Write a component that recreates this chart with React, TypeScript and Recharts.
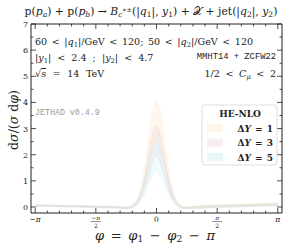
import React from "react";
import { ComposedChart, Area, XAxis, YAxis } from "recharts";

// azimuthal distance phi = phi1 - phi2 - pi (rad)
const phi = [-3.14, -2.6, -2.0, -1.5, -1.0, -0.75, -0.6, -0.5, -0.4, -0.3, -0.2, -0.1, -0.05, 0, 0.05, 0.1, 0.2, 0.3, 0.4, 0.5, 0.6, 0.75, 1.0, 1.5, 2.0, 2.6, 3.14];

// HE-NLO uncertainty bands (1/2 < C_mu < 2)
const hiDY1 = [0.10, 0.08, 0.06, 0.04, 0.02, 0.00, 0.10, 0.30, 0.77, 1.58, 2.66, 3.62, 3.92, 4.02, 3.92, 3.62, 2.66, 1.58, 0.77, 0.30, 0.10, 0.01, 0.05, 0.08, 0.10, 0.13, 0.17];
const loDY1 = [0.04, 0.02, 0.00, -0.02, -0.03, -0.05, 0.02, 0.14, 0.42, 0.95, 1.65, 2.30, 2.52, 2.60, 2.52, 2.30, 1.65, 0.95, 0.42, 0.14, 0.02, -0.04, -0.04, -0.01, 0.02, 0.05, 0.08];
const hiDY3 = [0.08, 0.06, 0.05, 0.03, 0.01, -0.02, 0.08, 0.25, 0.60, 1.20, 2.00, 2.75, 3.00, 3.10, 3.00, 2.75, 2.00, 1.20, 0.60, 0.25, 0.08, -0.02, 0.02, 0.06, 0.08, 0.10, 0.13];
const loDY3 = [0.03, 0.02, 0.00, -0.02, -0.04, -0.06, 0.00, 0.10, 0.32, 0.70, 1.20, 1.70, 1.88, 1.95, 1.88, 1.70, 1.20, 0.70, 0.32, 0.10, 0.00, -0.06, -0.05, -0.02, 0.01, 0.03, 0.06];
const hiDY5 = [0.07, 0.05, 0.04, 0.02, 0.00, -0.03, 0.07, 0.22, 0.52, 1.00, 1.65, 2.22, 2.42, 2.50, 2.42, 2.22, 1.65, 1.00, 0.52, 0.22, 0.07, -0.03, 0.01, 0.05, 0.07, 0.09, 0.12];
const loDY5 = [0.02, 0.01, -0.01, -0.03, -0.05, -0.07, -0.01, 0.08, 0.25, 0.52, 0.88, 1.22, 1.35, 1.40, 1.35, 1.22, 0.88, 0.52, 0.25, 0.08, -0.01, -0.07, -0.06, -0.03, 0.00, 0.02, 0.05];

// tick positions: minor every pi/10, labels on multiples of pi/2
const xTicks = Array.from({ length: 21 }, (_, i) => ((i - 10) * Math.PI) / 10);
const xLabels = [
  { num: "−π", den: "" },
  { num: "−π", den: "2" },
  { num: "0", den: "" },
  { num: "π", den: "2" },
  { num: "π", den: "" },
];
const yTicks = Array.from({ length: 15 }, (_, i) => i * 0.5);
const yLabels = ["0", "1", "2", "3", "4", "5", "6", "7"];

const bands = [
  { key: "b1", name: "1", fill: "#ffcc90", op: 0.16, swatch: "#fef4e8" },
  { key: "b3", name: "3", fill: "#c9a0b8", op: 0.13, swatch: "#f5edf2" },
  { key: "b5", name: "5", fill: "#9ee6e2", op: 0.15, swatch: "#e9f8f7" },
];

const data = phi.map((p, i) => ({
  phi: p,
  b1: [loDY1[i], hiDY1[i]],
  b3: [loDY3[i], hiDY3[i]],
  b5: [loDY5[i], hiDY5[i]],
}));

const serif = "'DejaVu Serif', 'Liberation Serif', serif";
const mono = "'Liberation Mono', 'DejaVu Sans Mono', monospace";
const ink = "#222";

function BottomTick(props: any) {
  const { x, y, payload } = props;
  const k = Math.round(payload.value / (Math.PI / 10));
  const major = k % 5 === 0;
  const lab = major ? xLabels[k / 5 + 2] : null;
  return (
    <g>
      <line x1={x} x2={x} y1={y} y2={y - (major ? 5 : 2.5)} stroke={ink} strokeWidth={0.8} />
      {lab && !lab.den && (
        <text x={x} y={y + 9} textAnchor="middle" fontSize={7.5} fontFamily={serif} fontStyle={lab.num === "0" ? "normal" : "italic"} fill={ink}>
          {lab.num}
        </text>
      )}
      {lab && lab.den && (
        <g fontFamily={serif} fill={ink} textAnchor="middle">
          <text x={x} y={y + 7} fontSize={6} fontStyle="italic">{lab.num}</text>
          <line x1={x - 5} x2={x + 5} y1={y + 8.5} y2={y + 8.5} stroke={ink} strokeWidth={0.5} />
          <text x={x} y={y + 14.5} fontSize={6}>{lab.den}</text>
        </g>
      )}
    </g>
  );
}

function TopTick(props: any) {
  const { x, y, payload } = props;
  const k = Math.round(payload.value / (Math.PI / 10));
  const major = k % 5 === 0;
  return <line x1={x} x2={x} y1={y} y2={y + (major ? 5 : 2.5)} stroke={ink} strokeWidth={0.8} />;
}

function LeftTick(props: any) {
  const { x, y, payload } = props;
  const major = Number.isInteger(payload.value);
  return (
    <g>
      <line x1={x} x2={x + (major ? 5 : 2.5)} y1={y} y2={y} stroke={ink} strokeWidth={0.8} />
      {major && (
        <text x={x - 3} y={y + 3} textAnchor="end" fontSize={8} fontFamily={serif} fill={ink}>
          {yLabels[payload.value]}
        </text>
      )}
    </g>
  );
}

function RightTick(props: any) {
  const { x, y, payload } = props;
  const major = Number.isInteger(payload.value);
  return <line x1={x} x2={x - (major ? 5 : 2.5)} y1={y} y2={y} stroke={ink} strokeWidth={0.8} />;
}

const Sub = ({ children }: { children: React.ReactNode }) => (
  <tspan baselineShift="-25%" fontSize="70%">{children}</tspan>
);
const I = ({ children }: { children: React.ReactNode }) => <tspan fontStyle="italic">{children}</tspan>;

function Overlay() {
  return (
    <svg width={295} height={248} style={{ position: "absolute", left: 0, top: 0, pointerEvents: "none" }}>
      <text x={151} y={15} textAnchor="middle" fontSize={10.8} fontFamily={serif} fill={ink}>
        p(<I>p</I><Sub><I>a</I></Sub>) + p(<I>p</I><Sub><I>b</I></Sub>) → <I>B</I>
        <tspan baselineShift="-25%" fontSize="65%"><I>c</I></tspan>
        <tspan baselineShift="45%" fontSize="60%">∗±</tspan>
        (|<I>q</I><Sub>1</Sub>|, <I>y</I><Sub>1</Sub>) + 𝒳 + jet(|<I>q</I><Sub>2</Sub>|, <I>y</I><Sub>2</Sub>)
      </text>

      <g fontFamily={serif} fontSize={9.6} fill={ink}>
        <text x={35} y={45} wordSpacing={1.5}>
          60 &lt; |<I>q</I><Sub>1</Sub>|/GeV &lt; 120;  50 &lt; |<I>q</I><Sub>2</Sub>|/GeV &lt; 120
        </text>
        <text x={35} y={61} wordSpacing={3}>
          |<I>y</I><Sub>1</Sub>| &lt; 2.4 ;  |<I>y</I><Sub>2</Sub>| &lt; 4.7
        </text>
        <text x={35} y={77} wordSpacing={3.5}>
          √<tspan textDecoration="overline" fontStyle="italic">s</tspan> = 14 TeV
        </text>
        <text x={276} y={77} textAnchor="end" wordSpacing={2.5}>
          1/2 &lt; <I>C</I><Sub><I>μ</I></Sub> &lt; 2
        </text>
      </g>
      <text x={276} y={59} textAnchor="end" fontFamily={mono} fontSize={8.8} fill={ink}>
        MMHT14 + ZCFW22
      </text>
      <text x={35} y={115} fontFamily={mono} fontSize={8.3} fill="#999">
        JETHAD v0.4.9
      </text>

      <rect x={202} y={105} width={75} height={60} rx={3} fill="#fff" stroke="#d4d4d4" strokeWidth={0.8} />
      <text x={240} y={117} textAnchor="middle" fontFamily={serif} fontWeight="bold" fontSize={9} fill={ink}>
        HE-NLO
      </text>
      {bands.map((b, i) => {
        const cy = 128 + i * 14.5;
        return (
          <g key={b.key}>
            <rect x={207} y={cy - 4} width={16} height={8} fill={b.swatch} />
            <text x={273} y={cy + 3.5} textAnchor="end" fontFamily={serif} fontWeight="bold" fontSize={9} wordSpacing={1} fill={ink}>
              Δ<I>Y</I> = {b.name}
            </text>
          </g>
        );
      })}

      <text
        transform="translate(18,120) rotate(-90)"
        textAnchor="middle"
        fontFamily={serif}
        fontSize={12.5}
        fill={ink}
      >
        d<I>σ</I>/(<I>σ</I> d<I>φ</I>)
      </text>
      <text x={155} y={240} textAnchor="middle" fontFamily={serif} fontSize={13} wordSpacing={2.5} fill={ink}>
        <I>φ</I> = <I>φ</I><Sub>1</Sub> − <I>φ</I><Sub>2</Sub> − <I>π</I>
      </text>
    </svg>
  );
}

export default function App() {
  return (
    <div style={{ position: "absolute", left: 0, top: 0, width: 295, height: 248, background: "#fff" }}>
      <ComposedChart width={295} height={248} data={data} margin={{ top: 23, right: 12, bottom: 0, left: 8 }}>
        <XAxis
          xAxisId="b"
          type="number"
          dataKey="phi"
          domain={[-3.25, 3.25]}
          allowDataOverflow
          ticks={xTicks}
          interval={0}
          height={35}
          tickSize={0}
          tickMargin={0}
          tickLine={false}
          axisLine={{ stroke: ink, strokeWidth: 1 }}
          tick={<BottomTick />}
        />
        <XAxis
          xAxisId="t"
          orientation="top"
          type="number"
          dataKey="phi"
          domain={[-3.25, 3.25]}
          allowDataOverflow
          ticks={xTicks}
          interval={0}
          height={1}
          tickSize={0}
          tickMargin={0}
          tickLine={false}
          axisLine={{ stroke: ink, strokeWidth: 1 }}
          tick={<TopTick />}
        />
        <YAxis
          yAxisId="l"
          type="number"
          domain={[-0.23, 7]}
          allowDataOverflow
          ticks={yTicks}
          interval={0}
          width={23}
          tickSize={0}
          tickMargin={0}
          tickLine={false}
          axisLine={{ stroke: ink, strokeWidth: 1 }}
          tick={<LeftTick />}
        />
        <YAxis
          yAxisId="r"
          orientation="right"
          type="number"
          domain={[-0.23, 7]}
          allowDataOverflow
          ticks={yTicks}
          interval={0}
          width={1}
          tickSize={0}
          tickMargin={0}
          tickLine={false}
          axisLine={{ stroke: ink, strokeWidth: 1 }}
          tick={<RightTick />}
        />
        {bands.map((b) => (
          <Area
            key={b.key}
            xAxisId="b"
            yAxisId="l"
            type="monotone"
            dataKey={b.key}
            fill={b.fill}
            fillOpacity={b.op}
            stroke={b.fill}
            strokeOpacity={0.25}
            strokeWidth={0.7}
            isAnimationActive={false}
            dot={false}
            activeDot={false}
          />
        ))}
      </ComposedChart>
      <Overlay />
    </div>
  );
}
